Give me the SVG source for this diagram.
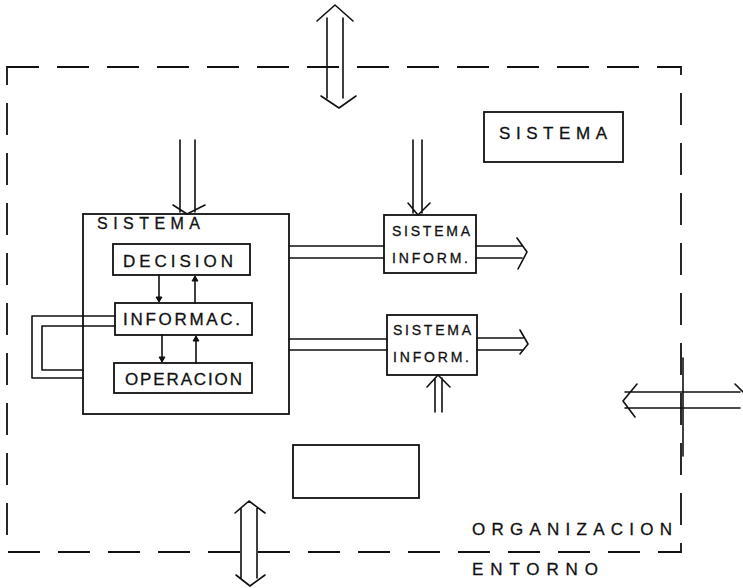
<svg xmlns="http://www.w3.org/2000/svg" width="743" height="588" viewBox="0 0 743 588">
<style>
.ln{fill:none;stroke:#111;stroke-width:1.6;stroke-linecap:round;stroke-linejoin:round}
.bx{fill:#fff;stroke:#111;stroke-width:1.8}
.dash{fill:none;stroke:#111;stroke-width:1.8;stroke-dasharray:32 18}
.t{font-family:"Liberation Sans",Arial,sans-serif;fill:#111;stroke:#111;stroke-width:0.3}
</style>
<rect width="743" height="588" fill="#fff"/>
<g id="organizacion">
<path class="dash" d="M7,67 H681 V552 H7 Z"/>
<text class="t" x="472" y="535" font-size="17" textLength="200" lengthAdjust="spacing">ORGANIZACION</text>
</g>
<g id="entorno">
<text class="t" x="472" y="575" font-size="17" textLength="126" lengthAdjust="spacing">ENTORNO</text>
</g>
<g id="sistema-label">
<rect class="bx" x="484" y="112" width="139" height="50"/>
<text class="t" x="499" y="139" font-size="17" textLength="108" lengthAdjust="spacing">SISTEMA</text>
</g>
<g id="sistema">
<rect class="bx" x="83" y="214" width="206" height="200"/>
<text class="t" x="97" y="229" font-size="16" textLength="103" lengthAdjust="spacing">SISTEMA</text>
</g>
<g id="decision">
<rect class="bx" x="113" y="244" width="137" height="31"/>
<text class="t" x="123" y="267" font-size="17" textLength="110" lengthAdjust="spacing">DECISION</text>
</g>
<g id="informac">
<rect class="bx" x="115" y="303" width="137" height="32"/>
<text class="t" x="123" y="325" font-size="17" textLength="117" lengthAdjust="spacing">INFORMAC.</text>
</g>
<g id="operacion">
<rect class="bx" x="114" y="363" width="138" height="30"/>
<text class="t" x="125" y="385" font-size="17" textLength="117" lengthAdjust="spacing">OPERACION</text>
</g>
<g id="sistema-inform-1">
<rect class="bx" x="384" y="215" width="92" height="58"/>
<text class="t" x="392" y="236" font-size="14" textLength="78" lengthAdjust="spacing">SISTEMA</text>
<text class="t" x="392" y="263" font-size="14" textLength="76" lengthAdjust="spacing">INFORM.</text>
</g>
<g id="sistema-inform-2">
<rect class="bx" x="387" y="315" width="90" height="60"/>
<text class="t" x="393" y="335" font-size="14" textLength="78" lengthAdjust="spacing">SISTEMA</text>
<text class="t" x="393" y="362" font-size="14" textLength="76" lengthAdjust="spacing">INFORM.</text>
</g>
<g id="caja-vacia">
<rect class="bx" x="293" y="445" width="126" height="53"/>
</g>
<g id="conectores">
<path class="ln" d="M327,18 V98 M343,18 V98 M317,21 L335,5 L353,21 M321,96 L339,108 L356,96"/>
<path class="ln" d="M180,140 V212 M195,140 V212 M173,205 L187,214 L205,205"/>
<path class="ln" d="M413,140 V213 M422,140 V213 M408,203 L418,215 L430,203"/>
<path class="ln" d="M289,246 H384 M289,258 H384"/>
<path class="ln" d="M476,246 H522 M476,258 H522 M517,238 L527,252 L518,269"/>
<path class="ln" d="M289,339 H387 M289,350 H387"/>
<path class="ln" d="M477,338 H523 M477,350 H523 M520,330 L528,344 L520,354"/>
<path class="ln" d="M435,378 V412 M442,378 V412 M427,387 L438,375 L450,387"/>
<path class="ln" d="M159,275 V301 M195,303 V277 M162,335 V361 M196,363 V337"/>
<path d="M156,297 L162,297 L159,302 Z M192,281 L198,281 L195,276 Z M159,357 L165,357 L162,362 Z M193,341 L199,341 L196,336 Z" fill="#111" stroke="#111" stroke-width="1"/>
<path class="ln" d="M115,316 H32 V378 H83 M115,326 H42 V370 H83"/>
<path class="ln" d="M625,392 H740 M625,408 H740 M637,384 L623,401 L635,417 M735,384 L743,392"/>
<path class="ln" d="M683,358 V456" stroke-width="2"/>
<path class="ln" d="M241,508 V578 M257,508 V578 M235,513 L249,501 L265,513 M236,575 L250,586 L265,575"/>
</g>
</svg>
